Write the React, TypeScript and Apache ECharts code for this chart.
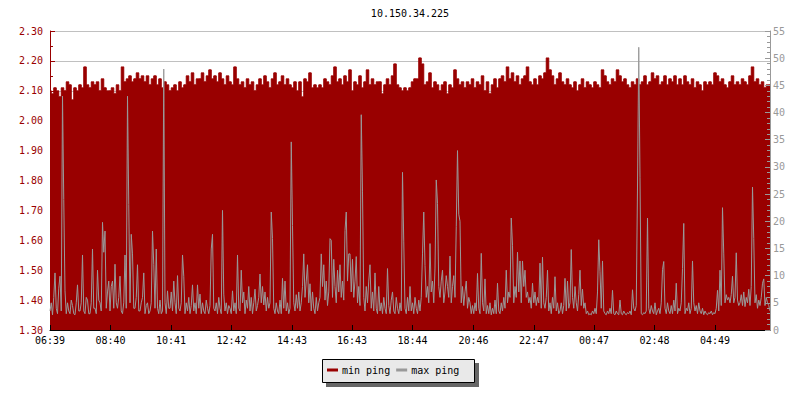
import React, { useEffect, useRef } from "react";
import * as echarts from "echarts";

const chartTitle = "10.150.34.225";
const seriesNames = ["min ping", "max ping"];

// x axis: minutes since 06:39, 24 hours
const xTickMinutes = [0, 121, 242, 363, 484, 604, 725, 847, 968, 1088, 1209, 1330];
const xTickLabels = ["06:39", "08:40", "10:41", "12:42", "14:43", "16:43", "18:44", "20:46", "22:47", "00:47", "02:48", "04:49"];

// min ping (left axis, ms), 5 minute samples, one row per hour
const minPing = [
  2.10, 2.09, 2.11, 2.10, 2.08, 2.11, 2.10, 2.13, 2.12, 2.07, 2.11, 2.10,
  2.12, 2.11, 2.18, 2.12, 2.11, 2.13, 2.12, 2.13, 2.10, 2.14, 2.11, 2.10,
  2.10, 2.11, 2.09, 2.12, 2.10, 2.18, 2.13, 2.14, 2.15, 2.13, 2.14, 2.16,
  2.14, 2.15, 2.13, 2.15, 2.12, 2.14, 2.15, 2.12, 2.14, 2.11, 2.13, 2.12,
  2.10, 2.11, 2.12, 2.10, 2.13, 2.11, 2.12, 2.15, 2.13, 2.16, 2.12, 2.14,
  2.14, 2.16, 2.13, 2.15, 2.17, 2.14, 2.15, 2.13, 2.16, 2.14, 2.12, 2.15,
  2.13, 2.12, 2.18, 2.14, 2.12, 2.13, 2.11, 2.14, 2.12, 2.13, 2.10, 2.12,
  2.14, 2.12, 2.15, 2.13, 2.11, 2.14, 2.16, 2.12, 2.13, 2.15, 2.12, 2.14,
  2.12, 2.11, 2.13, 2.10, 2.13, 2.08, 2.14, 2.13, 2.16, 2.11, 2.12, 2.11,
  2.12, 2.11, 2.14, 2.13, 2.12, 2.15, 2.18, 2.13, 2.14, 2.12, 2.15, 2.13,
  2.17, 2.10, 2.13, 2.12, 2.15, 2.11, 2.13, 2.17, 2.12, 2.14, 2.12, 2.13,
  2.13, 2.09, 2.12, 2.14, 2.12, 2.15, 2.19, 2.12, 2.11, 2.10, 2.11, 2.10,
  2.11, 2.13, 2.14, 2.14, 2.21, 2.19, 2.12, 2.13, 2.16, 2.11, 2.13, 2.12,
  2.10, 2.12, 2.13, 2.09, 2.12, 2.11, 2.17, 2.14, 2.12, 2.13, 2.11, 2.13,
  2.12, 2.14, 2.11, 2.13, 2.12, 2.15, 2.10, 2.13, 2.09, 2.12, 2.14, 2.11,
  2.14, 2.15, 2.13, 2.18, 2.14, 2.16, 2.13, 2.15, 2.12, 2.14, 2.15, 2.18,
  2.13, 2.12, 2.14, 2.12, 2.15, 2.14, 2.16, 2.21, 2.17, 2.15, 2.12, 2.14,
  2.16, 2.13, 2.12, 2.14, 2.12, 2.11, 2.13, 2.10, 2.12, 2.14, 2.11, 2.13,
  2.12, 2.11, 2.13, 2.12, 2.11, 2.17, 2.15, 2.13, 2.12, 2.14, 2.13, 2.17,
  2.15, 2.13, 2.14, 2.12, 2.11, 2.13, 2.12, 2.14, 2.12, 2.13, 2.15, 2.12,
  2.13, 2.16, 2.14, 2.15, 2.12, 2.13, 2.15, 2.12, 2.14, 2.13, 2.15, 2.12,
  2.14, 2.12, 2.15, 2.13, 2.12, 2.14, 2.11, 2.13, 2.12, 2.10, 2.13, 2.12,
  2.13, 2.12, 2.16, 2.15, 2.13, 2.14, 2.12, 2.11, 2.13, 2.15, 2.12, 2.13,
  2.12, 2.14, 2.13, 2.12, 2.15, 2.18, 2.13, 2.14, 2.12, 2.13, 2.11, 2.12,
  2.12,
];

// max ping (right axis, ms), 2.5 minute samples, one row per hour
const maxPing = [
  3.5, 5, 2.8, 6, 10.5, 4, 3, 7.7, 9.9, 3.5, 43, 24, 7.2, 3, 5, 3.5, 3, 5.5, 4.5, 3, 2.8, 5, 8.3, 3.5,
  3.5, 5, 13.8, 3.5, 3, 6, 5.5, 3, 3, 5, 14.9, 4, 4, 3, 11, 5.5, 5, 3.5, 19.8, 14.3, 18.2, 4, 7, 9,
  3.5, 8, 9, 4, 12.1, 5, 4, 6, 9.9, 3.5, 3, 5, 13.8, 4, 43, 23.1, 5, 17.6, 14, 4, 4, 6, 12, 3.5,
  3.5, 5, 6, 10.5, 3, 4.5, 5, 3, 3.5, 5, 18.2, 12.1, 4, 14.9, 4, 3, 5.5, 3, 3.5, 48, 5, 3, 7.2, 4,
  4, 7, 3.5, 9, 5, 3, 10, 4, 3.5, 5, 13.8, 9.9, 3, 5, 3.5, 6, 3, 4.5, 8.3, 3.5, 5, 3, 8.3, 4,
  6.6, 3, 5, 3.5, 3, 5.5, 4, 3, 4.5, 14.9, 17.6, 4, 3.5, 5, 3, 6, 4, 3, 22, 6.6, 3.5, 5, 3, 4.5,
  4, 3, 7.2, 3.5, 5, 3, 13.8, 4, 3.5, 11, 5, 7, 3, 5.5, 4, 8, 3.5, 6, 3, 5, 7.5, 3.5, 4.5, 6,
  10.3, 5, 8, 4.6, 7, 3.5, 6, 4, 5, 21.7, 16.8, 4, 3, 5, 3.5, 3, 5.5, 3, 9.5, 4, 9, 3.5, 5, 3,
  4, 34.6, 19.2, 5, 3.5, 6.5, 4, 7, 3.5, 5, 8, 14, 6, 9, 12, 5, 8.5, 3.5, 7, 4, 3, 6, 3.5, 5,
  6, 14, 8, 12, 5.5, 9, 4.5, 7, 16.8, 16.5, 6, 13, 8, 5, 11, 7, 12, 6, 9, 5.5, 18.3, 21.7, 9, 14,
  14, 7, 13, 6, 9, 13.5, 5, 8, 4.5, 39.6, 25.4, 6, 3.5, 8, 5, 9, 12, 4, 7, 3.5, 10.5, 4, 3, 8,
  3.5, 5, 3, 6, 4, 3, 11.3, 4.5, 3, 5.5, 7, 3.5, 3, 6, 4, 3, 5, 3.5, 29, 16.2, 4, 3, 6, 3.5,
  8, 3.5, 5, 3, 6, 4, 3, 5.5, 3.5, 6, 14, 21.7, 11.9, 6, 8, 5, 15.9, 7, 9, 5, 11.4, 27.6, 23.3, 8,
  6, 9, 11, 5, 7, 10, 8, 6, 13.6, 5, 8, 10, 6, 19, 33, 21.3, 20, 5, 8, 4.5, 7, 9, 4, 6,
  5, 3, 4.5, 3, 5, 3.5, 10.4, 4, 3, 14.1, 5, 3.5, 9.4, 3, 4.5, 3, 5, 2.8, 4, 3, 5.5, 3, 8.6, 3.5,
  3, 5, 3.5, 6, 4, 11, 5, 7, 6, 20.6, 15.6, 5, 8, 6, 14.3, 7, 12.7, 5, 12.7, 8, 11, 6, 7, 5,
  6, 4, 8.6, 5, 7, 4.5, 6, 5, 12.3, 4, 13.4, 5, 4, 6, 11, 3.5, 5, 3, 6, 4, 9.8, 3.5, 5, 3,
  3.5, 5, 3, 4.5, 9.5, 3.5, 9, 4, 5, 14.8, 6, 4, 8, 5, 3.5, 6.5, 11, 4.5, 7.5, 4, 5, 3, 3.5, 2.8,
  3, 2.8, 3.5, 3, 4, 3, 7, 16.6, 10.7, 4, 12.7, 3.5, 3, 2.8, 3.5, 3, 4, 3, 7.3, 3, 2.8, 3.5, 3, 2.8,
  5.5, 3, 2.8, 3.5, 3, 2.8, 3.2, 3, 3.5, 2.8, 7.4, 4, 3.5, 4.5, 26.3, 52, 28, 3, 2.8, 3.2, 3, 3.5, 20.6, 4,
  3, 4.5, 3.5, 3, 5, 2.8, 3.5, 4, 3, 5, 11.1, 12.6, 4, 3, 5, 3.5, 3, 4.5, 3, 5.5, 3.5, 8.6, 3, 4,
  3.5, 5, 11.3, 19.6, 3, 4, 3.5, 5, 3, 4, 12.7, 5, 3.5, 4.5, 3, 5, 3.5, 3, 4, 2.8, 3.5, 3, 2.8, 3.2,
  3, 3.5, 2.8, 3.2, 3, 4, 7.3, 3.5, 11, 4.5, 22.5, 14, 5, 6.5, 5.5, 6, 5, 6.5, 9.9, 5, 6, 14.2, 5.5, 4.5,
  5, 6.5, 4.5, 7, 4.3, 6, 5, 7.5, 4.5, 8, 26.3, 16.8, 5, 6.5, 4, 5.5, 4.5, 6, 8.6, 9.4, 4.5, 6, 5, 4.5,
  3.5,
];

const SPAN_MINUTES = 1440;
const FONT = "DejaVu Sans Mono";
const RED = "#990000";
const GRAY = "#999999";

export default function App() {
  const ref = useRef<HTMLDivElement>(null);

  useEffect(() => {
    if (!ref.current) return;
    const chart = echarts.init(ref.current, null, { renderer: "svg" });
    const toXY = (arr: number[]) =>
      arr.map((v, i) => [(i * SPAN_MINUTES) / (arr.length - 1), v]);

    const option: any = {
      animation: false,
      backgroundColor: "#ffffff",
      textStyle: { fontFamily: FONT },
      grid: { left: 50, right: 30, top: 31, bottom: 70, outerBoundsMode: "none" },
      graphic: [
        {
          type: "text",
          x: 410,
          y: 13,
          style: {
            text: chartTitle,
            textAlign: "center",
            textVerticalAlign: "middle",
            font: `10px "${FONT}"`,
            fill: "#000",
          },
        },
        {
          type: "rect",
          z: -1,
          shape: { x: 326, y: 363, width: 153, height: 24 },
          style: { fill: "#666666" },
        },
        {
          type: "rect",
          z: 0,
          shape: { x: 322.5, y: 359.5, width: 152, height: 23 },
          style: { fill: "#e9e9e9", stroke: "#000", lineWidth: 1 },
        },
      ],
      legend: {
        data: seriesNames,
        left: 327,
        top: 365,
        padding: 0,
        itemWidth: 11,
        itemHeight: 3,
        itemGap: 6,
        icon: "rect",
        z: 10,
        textStyle: { fontFamily: FONT, fontSize: 10, color: "#000", padding: [0, 0, 0, -1] },
      },
      xAxis: {
        type: "value",
        min: 0,
        max: SPAN_MINUTES,
        z: 10,
        axisLine: { show: true, lineStyle: { color: "#000", width: 1 } },
        axisTick: {
          show: true,
          inside: true,
          length: 5,
          customValues: xTickMinutes,
          lineStyle: { color: "#000" },
        },
        axisLabel: {
          customValues: xTickMinutes,
          margin: 5,
          color: "#000",
          fontFamily: FONT,
          fontSize: 10,
          formatter: (v: number) => {
            const k = xTickMinutes.indexOf(Math.round(v));
            return k >= 0 ? xTickLabels[k] : "";
          },
        },
        splitLine: { show: false },
      },
      yAxis: [
        {
          type: "value",
          position: "left",
          min: 1.3,
          max: 2.3,
          interval: 0.1,
          axisLine: { show: true, lineStyle: { color: RED } },
          axisTick: { show: true, inside: true, length: 5, lineStyle: { color: RED } },
          minorTick: { show: true, splitNumber: 2, length: 3, lineStyle: { color: RED } },
          axisLabel: {
            color: RED,
            fontFamily: FONT,
            fontSize: 10,
            margin: 7,
            formatter: (v: number) => v.toFixed(2),
          },
          splitLine: { show: true, lineStyle: { color: "#c0c0c0", width: 1 } },
        },
        {
          type: "value",
          position: "right",
          min: 0,
          max: 55,
          interval: 5,
          z: 10,
          axisLine: { show: true, lineStyle: { color: GRAY } },
          axisTick: { show: true, inside: true, length: 5, lineStyle: { color: GRAY } },
          minorTick: { show: true, splitNumber: 5, length: 3, lineStyle: { color: GRAY } },
          axisLabel: { color: GRAY, fontFamily: FONT, fontSize: 10, margin: 3 },
          splitLine: { show: false },
        },
      ],
      series: [
        {
          name: seriesNames[0],
          type: "line",
          yAxisIndex: 0,
          step: "middle",
          symbol: "none",
          silent: true,
          color: RED,
          lineStyle: { color: RED, width: 1 },
          areaStyle: { color: RED, opacity: 1 },
          data: toXY(minPing),
          z: 2,
        },
        {
          name: seriesNames[1],
          type: "line",
          yAxisIndex: 1,
          symbol: "none",
          silent: true,
          color: GRAY,
          lineStyle: { color: GRAY, width: 1 },
          data: toXY(maxPing),
          z: 3,
        },
      ],
    };

    chart.setOption(option);
    return () => chart.dispose();
  }, []);

  return (
    <div
      ref={ref}
      style={{ position: "absolute", left: 0, top: 0, width: 800, height: 400 }}
    />
  );
}
